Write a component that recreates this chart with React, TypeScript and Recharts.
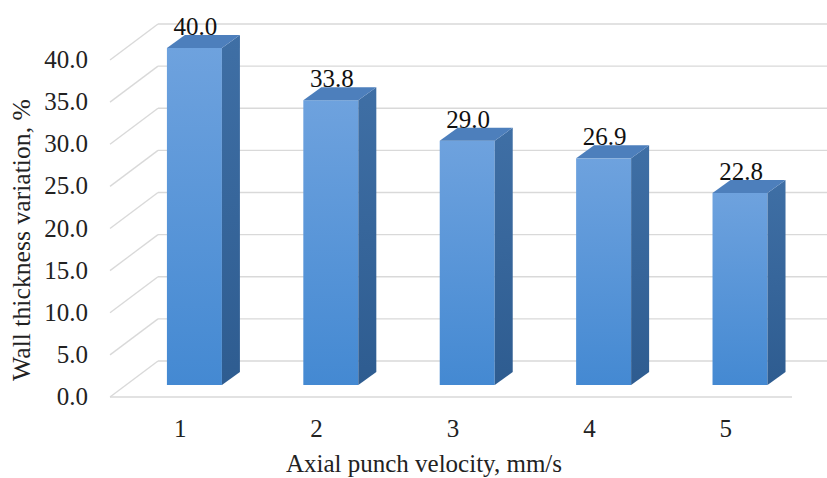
import { BarChart, Bar, XAxis, YAxis, CartesianGrid, ReferenceLine, LabelList } from "recharts";

const velocities = ["1", "2", "3", "4", "5"];
const wallVariation = [40.0, 33.8, 29.0, 26.9, 22.8];
const yTicks = [0, 5, 10, 15, 20, 25, 30, 35, 40];

const data = velocities.map((v, i) => ({ name: v, value: wallVariation[i] }));

const FONT = "'Liberation Serif', 'Times New Roman', serif";
const GRID = "#d9d9d9";
const txt = { fontFamily: FONT, fontSize: 25 };

// floor depth (back wall offset) and bar depth
const WALL_DX = 48;
const WALL_DY = -36;
const BAR_OFF_X = 16;
const BAR_OFF_Y = -12;
const BAR_DX = 18;
const BAR_DY = -13;

const gridLine = (props: any) => {
  const { x1, y1 } = props;
  const bx = x1 + WALL_DX;
  const by = y1 + WALL_DY;
  return (
    <g key={props.key ?? `g-${y1}`}>
      <line x1={x1} y1={y1} x2={bx} y2={by} stroke={GRID} strokeWidth={1.3} />
      <line x1={bx} y1={by} x2={827} y2={by} stroke={GRID} strokeWidth={1.3} />
    </g>
  );
};

const Box3D = (props: any) => {
  const { x, y, width, height } = props;
  if (!height) return null;
  const fx = x + BAR_OFF_X;
  const fy = y + BAR_OFF_Y;
  const w = width;
  const h = height;
  return (
    <g>
      <rect x={fx} y={fy} width={w} height={h} fill="url(#frontGrad)" />
      <polygon
        points={`${fx + w},${fy} ${fx + w + BAR_DX},${fy + BAR_DY} ${fx + w + BAR_DX},${fy + h + BAR_DY} ${fx + w},${fy + h}`}
        fill="url(#sideGrad)"
      />
      <polygon
        points={`${fx},${fy} ${fx + BAR_DX},${fy + BAR_DY} ${fx + w + BAR_DX},${fy + BAR_DY} ${fx + w},${fy}`}
        fill="#4d7fbc"
      />
    </g>
  );
};

const valueLabel = (props: any) => {
  const { x, y, width, value } = props;
  return (
    <text x={x + BAR_OFF_X + width / 2 + 1} y={y - 25} textAnchor="middle" style={txt} fill="#111">
      {Number(value).toFixed(1)}
    </text>
  );
};

const YTick = (props: any) => {
  const { y, payload } = props;
  return (
    <text x={88} y={y + 8} textAnchor="end" style={txt} fill="#222">
      {Number(payload.value).toFixed(1)}
    </text>
  );
};

const XTick = (props: any) => {
  const { x, payload } = props;
  return (
    <text x={x + 2} y={437} textAnchor="middle" style={txt} fill="#222">
      {payload.value}
    </text>
  );
};

export default function App() {
  return (
    <div style={{ position: "absolute", left: 0, top: 0, width: 827, height: 478, background: "#fff" }}>
      <BarChart
        width={827}
        height={478}
        data={data}
        margin={{ top: 60, right: 35, bottom: 0, left: 0 }}
        barCategoryGap="30%"
      >
        <defs>
          <linearGradient id="frontGrad" x1="0" y1="0" x2="0" y2="1">
            <stop offset="0%" stopColor="#6ea2de" />
            <stop offset="100%" stopColor="#4489d2" />
          </linearGradient>
          <linearGradient id="sideGrad" x1="0" y1="0" x2="0" y2="1">
            <stop offset="0%" stopColor="#3f6fa5" />
            <stop offset="100%" stopColor="#2e5c90" />
          </linearGradient>
        </defs>
        <CartesianGrid vertical={false} horizontal={gridLine} />
        <ReferenceLine y={0} stroke={GRID} strokeWidth={1.3} />
        <XAxis
          dataKey="name"
          height={81}
          axisLine={false}
          tickLine={false}
          tick={<XTick />}
          label={{
            value: "Axial punch velocity, mm/s",
            content: () => (
              <text x={424} y={472} textAnchor="middle" style={txt} fill="#222">
                Axial punch velocity, mm/s
              </text>
            ),
          }}
        />
        <YAxis
          width={110}
          domain={[0, 40]}
          ticks={yTicks}
          axisLine={false}
          tickLine={false}
          tick={<YTick />}
          label={{
            value: "Wall thickness variation, %",
            content: () => (
              <text
                x={0}
                y={0}
                transform="translate(30,240) rotate(-90)"
                textAnchor="middle"
                style={{ fontFamily: FONT, fontSize: 25.7 }}
                fill="#222"
              >
                Wall thickness variation, %
              </text>
            ),
          }}
        />
        <Bar dataKey="value" shape={<Box3D />} isAnimationActive={false}>
          <LabelList dataKey="value" content={valueLabel} />
        </Bar>
      </BarChart>
    </div>
  );
}
